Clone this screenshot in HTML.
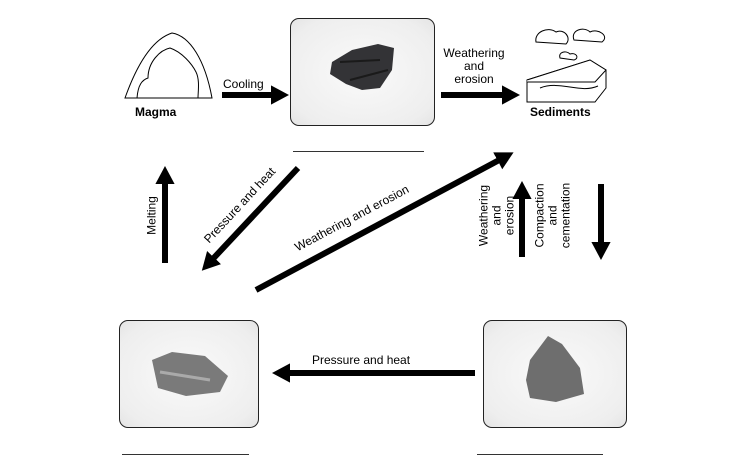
<!DOCTYPE html>
<html><head><style>
body{margin:0;background:#fff;width:750px;height:470px;overflow:hidden;position:relative;font-family:"Liberation Sans",Arial,sans-serif;}
.t{position:absolute;font-size:12px;color:#000;line-height:13px;text-align:center;}
.box{position:absolute;border:1px solid #222;border-radius:9px;background:radial-gradient(ellipse at 50% 50%,#fafafa 0%,#eee 80%,#e4e4e4 100%);}
.ln{position:absolute;height:1px;background:#333;}
</style></head><body>
<div class="box" style="left:290px;top:18px;width:143px;height:106px"></div>
<div class="box" style="left:119px;top:320px;width:138px;height:106px"></div>
<div class="box" style="left:483px;top:320px;width:142px;height:106px"></div>
<div class="ln" style="left:293px;top:151px;width:131px"></div>
<div class="ln" style="left:122px;top:454px;width:127px"></div>
<div class="ln" style="left:477px;top:454px;width:126px"></div>
<svg width="750" height="470" style="position:absolute;left:0;top:0">
<defs><marker id="a" markerWidth="4" markerHeight="4" refX="1" refY="2" orient="auto"><path d="M0,0.4 L3,2 L0,3.6Z" fill="#000"/></marker></defs>
<g stroke="#000" stroke-width="6" marker-end="url(#a)">
<line x1="222" y1="95" x2="277" y2="95"/>
<line x1="441" y1="95" x2="508" y2="95"/>
<line x1="165" y1="263" x2="165" y2="178"/>
<line x1="298" y1="168" x2="210" y2="262"/>
<line x1="256" y1="290" x2="503" y2="158"/>
<line x1="522" y1="257" x2="522" y2="193"/>
<line x1="601" y1="184" x2="601" y2="248"/>
<line x1="475" y1="373" x2="284" y2="373"/>
</g>
<path d="M332,62 L352,50 L378,44 L394,48 L392,70 L380,88 L362,90 L346,84 L330,74Z" fill="#333336"/>
<path d="M340,62 L380,60 M350,80 L388,70" stroke="#1a1a1a" stroke-width="2"/>
<path d="M152,360 L172,352 L205,356 L228,376 L220,392 L186,396 L158,388Z" fill="#7a7a7a"/>
<path d="M160,372 L210,380" stroke="#aaa" stroke-width="3"/>
<path d="M530,360 L548,336 L562,344 L580,368 L584,394 L556,402 L530,398 L526,380Z" fill="#6e6e6e"/>
<g fill="none" stroke="#000" stroke-width="1">
<path d="M125,98 C135,70 150,40 172,33 C190,36 205,60 212,98 Z"/>
<path d="M137,98 C138,85 142,80 148,78 C148,62 160,50 170,48 C182,52 192,64 196,72 C200,80 198,92 198,98"/>
</g>
<g fill="#fff" stroke="#000" stroke-width="1">
<path d="M527,80 L590,60 L606,70 L606,88 L595,102 L527,102Z"/>
<path d="M527,80 L590,60 L606,70 L595,82 L527,82"/>
<path d="M540,88 C560,80 580,94 598,86"/>
<path d="M536,42 C534,32 548,26 556,32 C564,28 572,38 566,44 Z"/>
<path d="M574,40 C570,30 584,26 590,32 C598,28 610,36 602,42 Z"/>
<path d="M560,58 C558,52 566,50 570,54 C576,52 580,58 574,60 Z"/>
</g>
</svg>
<div class="t" style="left:223px;top:78px">Cooling</div>
<div class="t" style="left:135px;top:106px;font-weight:bold">Magma</div>
<div class="t" style="left:436px;top:47px;width:76px">Weathering<br>and<br>erosion</div>
<div class="t" style="left:530px;top:106px;font-weight:bold">Sediments</div>
<div class="t" style="left:312px;top:354px">Pressure and heat</div>
<div class="t" style="left:112px;top:209px;width:80px;transform:rotate(-90deg)">Melting</div>
<div class="t" style="left:185px;top:199px;width:110px;transform:rotate(-47deg)">Pressure and heat</div>
<div class="t" style="left:282px;top:212px;width:140px;transform:rotate(-28deg)">Weathering and erosion</div>
<div class="t" style="left:457px;top:196px;width:80px;transform:rotate(-90deg)">Weathering<br>and<br>erosion</div>
<div class="t" style="left:513px;top:196px;width:80px;transform:rotate(-90deg)">Compaction<br>and<br>cementation</div>
</body></html>
